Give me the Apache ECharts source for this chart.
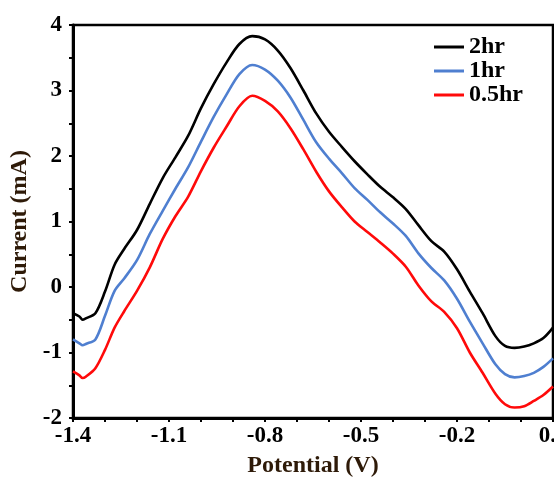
<!DOCTYPE html>
<html lang="en">
<head>
    <meta charset="UTF-8">
    <title>Current vs Potential</title>
    <script src="https://cdn.jsdelivr.net/npm/echarts@6/dist/echarts.min.js"></script>
    <style>
        html, body { margin: 0; padding: 0; background: #fff; }
        #chart { width: 554px; height: 481px; }
    </style>
</head>
<body>
    <div id="chart"></div>
    <script>
        // potential (V), shared by the three curves
        var potential = [-1.40, -1.38, -1.37, -1.36, -1.33, -1.30, -1.27, -1.24, -1.20, -1.16, -1.12, -1.08, -1.04, -1.00,
            -0.96, -0.92, -0.88, -0.84, -0.80, -0.76, -0.72, -0.68, -0.64, -0.60, -0.56, -0.52, -0.48, -0.44, -0.40,
            -0.36, -0.32, -0.28, -0.24, -0.20, -0.16, -0.12, -0.08, -0.05, -0.02, 0.01, 0.04, 0.07, 0.10];
        // current (mA)
        var cur2hr = [-0.40, -0.45, -0.50, -0.48, -0.40, -0.07, 0.34, 0.58, 0.87, 1.27, 1.66, 1.98, 2.31, 2.73,
            3.10, 3.43, 3.71, 3.83, 3.78, 3.61, 3.34, 3.00, 2.65, 2.37, 2.14, 1.92, 1.72, 1.53, 1.37,
            1.19, 0.94, 0.70, 0.54, 0.27, -0.07, -0.40, -0.75, -0.90, -0.93, -0.91, -0.86, -0.78, -0.62];
        var cur1hr = [-0.80, -0.86, -0.89, -0.87, -0.80, -0.44, -0.06, 0.13, 0.41, 0.81, 1.16, 1.50, 1.83, 2.22,
            2.60, 2.94, 3.25, 3.39, 3.32, 3.15, 2.89, 2.55, 2.21, 1.96, 1.74, 1.51, 1.33, 1.14, 0.97,
            0.78, 0.51, 0.29, 0.10, -0.18, -0.53, -0.86, -1.18, -1.33, -1.38, -1.36, -1.31, -1.22, -1.09];
        var cur05hr = [-1.29, -1.35, -1.39, -1.37, -1.24, -0.96, -0.62, -0.37, -0.06, 0.30, 0.73, 1.08, 1.38, 1.77,
            2.13, 2.45, 2.76, 2.92, 2.84, 2.68, 2.42, 2.10, 1.76, 1.46, 1.22, 1.00, 0.84, 0.68, 0.51,
            0.31, 0.02, -0.22, -0.38, -0.63, -1.00, -1.31, -1.63, -1.79, -1.84, -1.82, -1.74, -1.65, -1.52];
        var seriesNames = ['2hr', '1hr', '0.5hr'];
        var seriesColors = ['#000000', '#4f7fd0', '#ff0a0a'];

        (function () {
            var myChart = echarts.init(document.getElementById('chart'));
            var font = 'Liberation Serif';

            // x axis runs in tenths of a volt so the 0.1 V ticks stay exact
            function pairs(vals) {
                return potential.map(function (v, i) {
                    return [Math.round(v * 100) / 10, vals[i]];
                });
            }
            var allData = [cur2hr, cur1hr, cur05hr];

            var series = seriesNames.map(function (name, i) {
                return {
                    name: name,
                    type: 'line',
                    smooth: 0.3,
                    symbol: 'none',
                    lineStyle: { color: seriesColors[i], width: 2.6 },
                    itemStyle: { color: seriesColors[i] },
                    data: pairs(allData[i]),
                    z: 3 - i
                };
            });

            var option = {
                animation: false,
                grid: {
                    left: 73, right: 1, top: 25, bottom: 63,
                    outerBoundsMode: 'none',
                    containLabel: false,
                    show: true, borderColor: '#000', borderWidth: 2.5
                },
                legend: {
                    orient: 'vertical',
                    left: 429, top: 30,
                    itemWidth: 30, itemHeight: 3,
                    itemGap: 0,
                    itemTextGap: 3,
                    icon: 'rect',
                    data: seriesNames,
                    textStyle: {
                        fontFamily: font, fontWeight: 'bold', fontSize: 24,
                        color: '#000', lineHeight: 24
                    }
                },
                xAxis: {
                    type: 'value',
                    min: -14, max: 1, interval: 1,
                    name: 'Potential (V)',
                    nameLocation: 'middle',
                    nameGap: 36,
                    nameTextStyle: { fontFamily: font, fontWeight: 'bold', fontSize: 24, color: '#2e1a08' },
                    axisLine: { onZero: false, lineStyle: { color: '#000', width: 3 } },
                    axisTick: { show: true, inside: false, length: 4, lineStyle: { color: '#000', width: 2 } },
                    splitLine: { show: false },
                    axisLabel: {
                        margin: 7,
                        alignMaxLabel: 'center',
                        fontFamily: font, fontWeight: 'bold', fontSize: 23, color: '#000',
                        formatter: function (v) {
                            var n = Math.round(v);
                            return ((n + 14) % 3 === 0) ? (n / 10).toFixed(1) : '';
                        }
                    }
                },
                yAxis: {
                    type: 'value',
                    min: -2, max: 4, interval: 1,
                    name: 'Current (mA)',
                    nameLocation: 'middle',
                    nameGap: 37,
                    nameTextStyle: { fontFamily: font, fontWeight: 'bold', fontSize: 24, color: '#2e1a08' },
                    axisLine: { onZero: false, lineStyle: { color: '#000', width: 3 } },
                    axisTick: { show: true, inside: false, length: 4, lineStyle: { color: '#000', width: 2 } },
                    minorTick: { show: true, splitNumber: 2, length: 4, lineStyle: { color: '#000', width: 2 } },
                    splitLine: { show: false },
                    axisLabel: {
                        margin: 11,
                        fontFamily: font, fontWeight: 'bold', fontSize: 23, color: '#000'
                    }
                },
                series: series
            };
            myChart.setOption(option);
        })();
    </script>
</body>
</html>
